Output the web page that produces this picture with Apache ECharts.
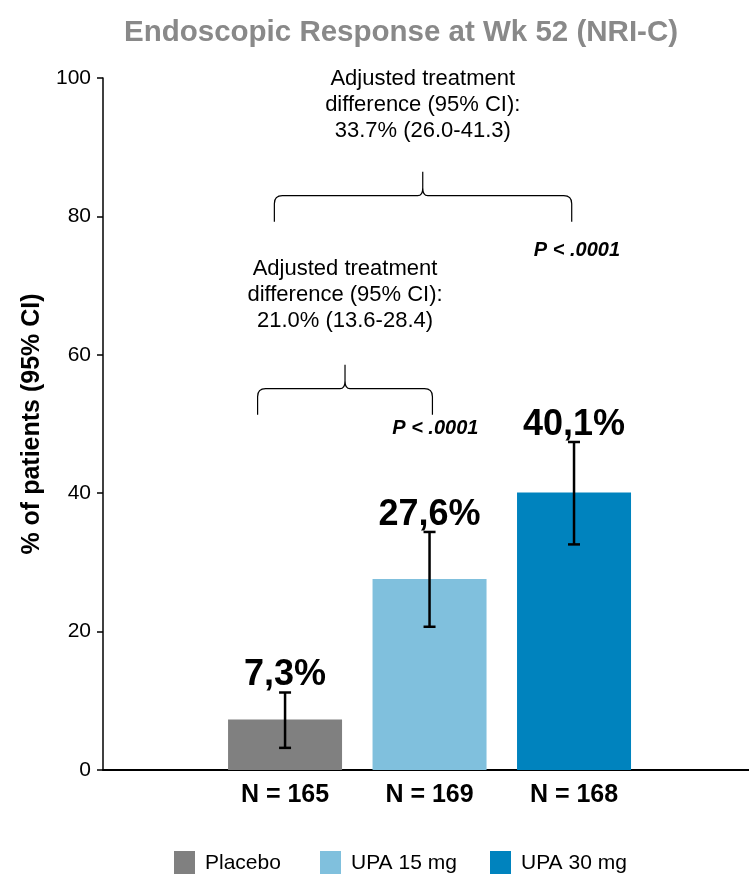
<!DOCTYPE html>
<html>
<head>
<meta charset="utf-8">
<script src="https://cdn.jsdelivr.net/npm/echarts@6/dist/echarts.min.js"></script>
<style>html,body{margin:0;padding:0;background:#fff;}#c{width:749px;height:874px;}</style>
</head>
<body>
<div id="c"></div>
<script>
// ---- data ----
const categories = ['Placebo', 'UPA 15 mg', 'UPA 30 mg'];
const nLabels = ['N = 165', 'N = 169', 'N = 168'];
const values = [7.3, 27.6, 40.1];
const ciLow = [3.2, 20.7, 32.6];
const ciHigh = [11.2, 34.4, 47.4];
const yTicks = [0, 20, 40, 60, 80, 100];
// brace annotations: [fromX, toX, midX, level]
const braceFrom = [-0.19, -0.074];
const braceTo = [1.02, 1.984];
const braceMid = [0.415, 0.953];
const braceLevel = [55.1, 83.0];
const annoText = [
  'Adjusted treatment\ndifference (95% CI):\n21.0% (13.6-28.4)',
  'Adjusted treatment\ndifference (95% CI):\n33.7% (26.0-41.3)'
];
const annoX = [0.415, 0.953];
const annoY = [68.7, 96.1];
const pText = ['P < .0001', 'P < .0001'];
const pX = [1.04, 2.02];
const pY = [49.3, 75.1];

// ---- style ----
const colors = ['#808080', '#80c0dd', '#0083be'];
const legendLeft = [174, 320, 490];
const fmtPct = v => String(v).replace('.', ',') + '%';

const chart = echarts.init(document.getElementById('c'), null, {renderer: 'canvas'});

const barSeries = categories.map((c, i) => ({
  name: c,
  type: 'bar',
  data: [[i, values[i]]],
  barWidth: 114,
  barGap: '-100%',
  itemStyle: {color: colors[i]},
  silent: true,
  z: 2
}));

const errorSeries = {
  type: 'custom',
  data: values.map((v, i) => [i, ciLow[i], ciHigh[i], v]),
  encode: {x: 0, y: [1, 2]},
  z: 5,
  silent: true,
  renderItem: function (params, api) {
    const i = api.value(0);
    const lo = api.coord([i, api.value(1)]);
    const hi = api.coord([i, api.value(2)]);
    const hw = 6;
    const st = {stroke: '#000', lineWidth: 2.5};
    return {
      type: 'group',
      children: [
        {type: 'line', shape: {x1: lo[0], y1: lo[1], x2: hi[0], y2: hi[1]}, style: st},
        {type: 'line', shape: {x1: lo[0] - hw, y1: lo[1], x2: lo[0] + hw, y2: lo[1]}, style: st},
        {type: 'line', shape: {x1: hi[0] - hw, y1: hi[1], x2: hi[0] + hw, y2: hi[1]}, style: st},
        {type: 'text', x: hi[0], y: hi[1] + 1, style: {
          text: fmtPct(api.value(3)), fill: '#000',
          font: 'bold 36px "Liberation Sans", Arial, sans-serif',
          align: 'center', verticalAlign: 'bottom'
        }}
      ]
    };
  }
};

const braceSeries = {
  type: 'custom',
  data: braceFrom.map((f, i) => [f, braceTo[i], braceMid[i], braceLevel[i]]),
  encode: {x: [0, 1], y: 3},
  z: 5,
  silent: true,
  renderItem: function (params, api) {
    const a = api.coord([api.value(0), api.value(3)]);
    const b = api.coord([api.value(1), api.value(3)]);
    const m = api.coord([api.value(2), api.value(3)]);
    const y = a[1], x1 = a[0], x2 = b[0], xm = m[0];
    const d = 'M' + x1 + ',' + (y + 26) + ' L' + x1 + ',' + (y + 8) +
      ' Q' + x1 + ',' + y + ' ' + (x1 + 8) + ',' + y +
      ' L' + (xm - 5) + ',' + y +
      ' Q' + xm + ',' + y + ' ' + xm + ',' + (y - 8) +
      ' L' + xm + ',' + (y - 24) +
      ' M' + xm + ',' + (y - 8) +
      ' Q' + xm + ',' + y + ' ' + (xm + 5) + ',' + y +
      ' L' + (x2 - 8) + ',' + y +
      ' Q' + x2 + ',' + y + ' ' + x2 + ',' + (y + 8) +
      ' L' + x2 + ',' + (y + 26);
    return {
      type: 'path',
      shape: {pathData: d},
      style: {stroke: '#000', lineWidth: 1.2, fill: null}
    };
  }
};

const annoSeries = {
  type: 'custom',
  data: annoX.map((x, i) => [x, annoY[i], pX[i], pY[i], i]),
  encode: {x: [0, 2], y: [1, 3]},
  z: 5,
  silent: true,
  renderItem: function (params, api) {
    const idx = api.value(4);
    const p1 = api.coord([api.value(0), api.value(1)]);
    const p2 = api.coord([api.value(2), api.value(3)]);
    return {
      type: 'group',
      children: [
        {type: 'text', x: p1[0], y: p1[1], style: {
          text: annoText[idx], fill: '#000',
          font: '22px "Liberation Sans", Arial, sans-serif',
          lineHeight: 26, align: 'center', verticalAlign: 'middle'
        }},
        {type: 'text', x: p2[0], y: p2[1], style: {
          text: pText[idx], fill: '#000',
          font: 'italic bold 20px "Liberation Sans", Arial, sans-serif',
          align: 'center', verticalAlign: 'middle'
        }}
      ]
    };
  }
};

const option = {
  animation: false,
  backgroundColor: '#fff',
  textStyle: {fontFamily: '"Liberation Sans", Arial, sans-serif'},
  title: {
    text: 'Endoscopic Response at Wk 52 (NRI-C)',
    left: 119, top: 13,
    textStyle: {fontSize: 29.5, fontWeight: 'bold', color: '#898989',
      fontFamily: '"Liberation Sans", Arial, sans-serif'}
  },
  legend: categories.map((c, i) => ({
    data: [c],
    left: legendLeft[i], top: 851,
    itemWidth: 21, itemHeight: 24,
    icon: 'rect',
    selectedMode: false,
    padding: 0,
    textStyle: {fontSize: 21, color: '#000', padding: [0, 0, 0, 5],
      fontFamily: '"Liberation Sans", Arial, sans-serif'}
  })),
  grid: {left: 103, right: 0, top: 78, bottom: 104, containLabel: false, outerBoundsMode: 'none'},
  xAxis: {
    type: 'value',
    min: -1.26, max: 3.211,
    axisLine: {show: true, onZero: false, lineStyle: {color: '#000', width: 2}},
    axisTick: {show: false},
    splitLine: {show: false},
    axisLabel: {
      customValues: [0, 1, 2],
      formatter: v => nLabels[Math.round(v)] || '',
      fontSize: 25, fontWeight: 'bold', color: '#000', margin: 13,
      fontFamily: '"Liberation Sans", Arial, sans-serif'
    }
  },
  yAxis: {
    type: 'value',
    min: yTicks[0], max: yTicks[yTicks.length - 1], interval: 20,
    name: '% of patients (95% CI)',
    nameLocation: 'middle',
    nameGap: 53,
    nameTextStyle: {fontSize: 25, fontWeight: 'bold', color: '#000',
      fontFamily: '"Liberation Sans", Arial, sans-serif'},
    axisLine: {show: true, onZero: false, lineStyle: {color: '#000', width: 1.5}},
    axisTick: {show: true, length: 6, lineStyle: {color: '#000', width: 1.5}},
    splitLine: {show: false},
    axisLabel: {fontSize: 21, color: '#000', margin: 12,
      fontFamily: '"Liberation Sans", Arial, sans-serif'}
  },
  series: barSeries.concat([errorSeries, braceSeries, annoSeries])
};
chart.setOption(option);
</script>
</body>
</html>
